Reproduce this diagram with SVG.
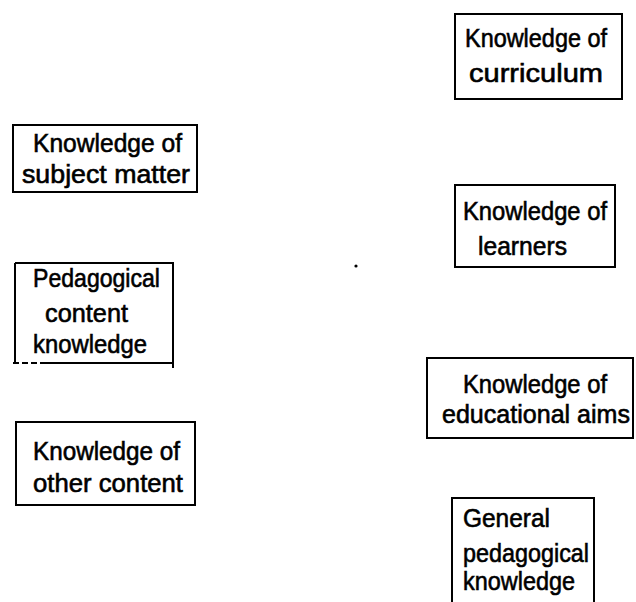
<svg xmlns="http://www.w3.org/2000/svg" width="636" height="602" viewBox="0 0 636 602">
<style>
.box{fill:none;stroke:#000;stroke-width:2}
.t{font-family:"Liberation Sans",Arial,sans-serif;font-size:26px;fill:#000;stroke:#000;stroke-width:0.6}
</style>
<rect width="636" height="602" fill="#fff"/>
<g id="curriculum">
<rect class="box" x="455" y="14" width="167" height="85"/>
<text class="t" x="465" y="47" textLength="142" lengthAdjust="spacingAndGlyphs">Knowledge of</text>
<text class="t" x="469" y="82" textLength="134" lengthAdjust="spacingAndGlyphs">curriculum</text>
</g>
<g id="subject">
<rect class="box" x="13" y="125" width="184" height="67"/>
<text class="t" x="33" y="152" textLength="149" lengthAdjust="spacingAndGlyphs">Knowledge of</text>
<text class="t" x="22" y="183" textLength="168" lengthAdjust="spacingAndGlyphs">subject matter</text>
</g>
<g id="pck">
<path class="box" d="M15 263 H173 V368 M15 263 V363 M40 363 H173"/>
<path class="box" d="M13 363 H40" stroke-dasharray="6 3"/>
<text class="t" x="33" y="287" textLength="127" lengthAdjust="spacingAndGlyphs">Pedagogical</text>
<text class="t" x="45" y="322" textLength="83" lengthAdjust="spacingAndGlyphs">content</text>
<text class="t" x="33" y="353" textLength="114" lengthAdjust="spacingAndGlyphs">knowledge</text>
</g>
<g id="other">
<rect class="box" x="16" y="422" width="179" height="83"/>
<text class="t" x="33" y="460" textLength="147" lengthAdjust="spacingAndGlyphs">Knowledge of</text>
<text class="t" x="33" y="492" textLength="150" lengthAdjust="spacingAndGlyphs">other content</text>
</g>
<g id="learners">
<rect class="box" x="455" y="185" width="160" height="82"/>
<text class="t" x="463" y="220" textLength="144" lengthAdjust="spacingAndGlyphs">Knowledge of</text>
<text class="t" x="478" y="255" textLength="89" lengthAdjust="spacingAndGlyphs">learners</text>
</g>
<g id="aims">
<rect class="box" x="427" y="358" width="206" height="80"/>
<text class="t" x="463" y="393" textLength="144" lengthAdjust="spacingAndGlyphs">Knowledge of</text>
<text class="t" x="442" y="423" textLength="188" lengthAdjust="spacingAndGlyphs">educational aims</text>
</g>
<g id="general">
<path class="box" d="M452 603 V498 H594 V603"/>
<text class="t" x="463" y="527" textLength="87" lengthAdjust="spacingAndGlyphs">General</text>
<text class="t" x="463" y="562" textLength="126" lengthAdjust="spacingAndGlyphs">pedagogical</text>
<text class="t" x="463" y="590" textLength="112" lengthAdjust="spacingAndGlyphs">knowledge</text>
</g>
<g id="connectors"></g>
<circle cx="356" cy="266" r="1.6" fill="#000"/>
</svg>
